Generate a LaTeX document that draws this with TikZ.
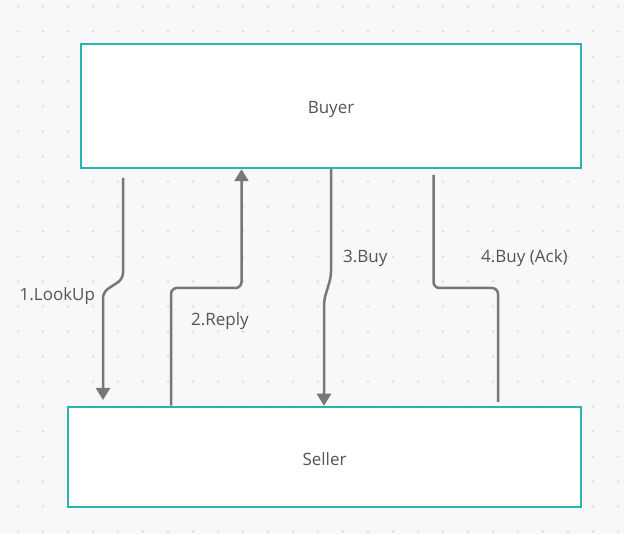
\documentclass[tikz,border=0pt]{standalone}
\usepackage{fontspec}
\setmainfont{Open Sans}
\usetikzlibrary{arrows.meta}
\definecolor{bg}{HTML}{F8F8FA}
\definecolor{dotc}{HTML}{DCDCE0}
\definecolor{teal}{HTML}{2BB3B0}
\definecolor{lin}{HTML}{777777}
\definecolor{txt}{HTML}{555555}
\tikzset{
  box/.style={draw=teal, line width=2.5pt, fill=white, rectangle, inner sep=0pt, text=txt, font=\fontsize{17}{19}\selectfont, text height=16pt, text depth=0pt},
  conn/.style={draw=lin, line width=2.5pt, rounded corners=6pt},
  tip/.style={-{Triangle[width=14pt,length=12pt]}},
  lbl/.style={text=txt, font=\fontsize{17}{19}\selectfont, anchor=base west, inner sep=0pt}
}
\begin{document}
\begin{tikzpicture}[x=1pt,y=-1pt]
\fill[bg] (0,0) rectangle (624,534);
\useasboundingbox (0,0) rectangle (624,534);
\foreach \i in {0,...,24}{\foreach \j in {0,...,21}{\fill[dotc] (18+25*\i,6.5+25*\j) circle (1.3pt);}}
\node[box, minimum width=500pt, minimum height=124pt] (buyer) at (331,106) {Buyer};
\node[box, minimum width=513pt, minimum height=100pt] (seller) at (324.5,457) {Seller};
% 1. LookUp
\coordinate (a1) at (123,178);
\coordinate (a1e) at (103,400);
\draw[conn, tip] (a1) -- (123,279) -- (103,292) -- (a1e);
% 2. Reply
\draw[conn, tip] (seller.north -| 171,0) -- (171,288) -- (241.5,288) -- (buyer.south -| 241.5,0);
% 3. Buy
\draw[conn, tip] (buyer.south -| 331,0) -- (331,277) -- (324,300) -- (seller.north -| 324,0);
% 4. Buy (Ack)
\coordinate (a4) at (433.5,175);
\coordinate (a4e) at (498,402);
\draw[conn] (a4) -- (433.5,288) -- (498,288) -- (a4e);
\node[lbl] (l1) at (19.5,301) {1.LookUp};
\node[lbl] (l2) at (191,326) {2.Reply};
\node[lbl] (l3) at (343,263) {3.Buy};
\node[lbl] (l4) at (481,263) {4.Buy (Ack)};
\end{tikzpicture}
\end{document}
